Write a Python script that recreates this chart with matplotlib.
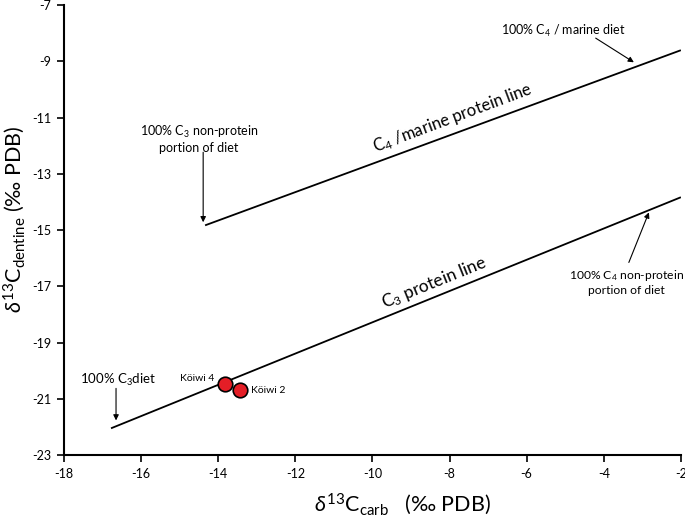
import matplotlib
matplotlib.use('Agg')
import matplotlib.pyplot as plt

plt.rcParams['font.family'] = ['Lato', 'DejaVu Sans']
plt.rcParams['mathtext.fontset'] = 'custom'
plt.rcParams['mathtext.rm'] = 'Lato'
plt.rcParams['mathtext.it'] = 'Lato:italic'
plt.rcParams['mathtext.default'] = 'regular'
plt.rcParams['axes.unicode_minus'] = False

# end points of the two model lines (x = d13C carb, y = d13C dentine)
c4_line_x = [-14.34, -2.0]
c4_line_y = [-14.83, -8.6]
c3_line_x = [-16.78, -2.0]
c3_line_y = [-22.05, -13.83]

# samples
sample_names = ['Köiwi 4', 'Köiwi 2']
sample_x = [-13.82, -13.43]
sample_y = [-20.49, -20.67]

x_ticks = [-18, -16, -14, -12, -10, -8, -6, -4, -2]
y_ticks = [-7, -9, -11, -13, -15, -17, -19, -21, -23]

fig = plt.figure(figsize=(6.85, 5.23), dpi=100)
ax = fig.add_axes([0.0934, 0.130, 0.9006, 0.860])

ax.plot(c4_line_x, c4_line_y, color='black', lw=1.3, solid_capstyle='butt')
ax.plot(c3_line_x, c3_line_y, color='black', lw=1.3, solid_capstyle='butt')

ax.scatter(sample_x, sample_y, s=110, color='#e41e26', edgecolor='black',
           linewidth=1.2, zorder=5)
ax.text(sample_x[0] - 0.28, sample_y[0] + 0.2, sample_names[0], fontsize=7.5,
        ha='right', va='center')
ax.text(sample_x[1] + 0.28, sample_y[1] - 0.05, sample_names[1], fontsize=7.5,
        ha='left', va='center')

arrow = dict(arrowstyle='-|>', color='black', lw=0.8, mutation_scale=8,
             shrinkA=0, shrinkB=0)

ax.annotate('', xy=(-16.65, -21.77), xytext=(-16.65, -20.63), arrowprops=arrow)
ax.text(-16.6, -20.33, '100% C$_3$diet', fontsize=9.5, ha='center', va='center')

ax.annotate('', xy=(-14.39, -14.72), xytext=(-14.39, -12.23), arrowprops=arrow)
ax.text(-14.5, -11.75, '100% C$_3$ non-protein\nportion of diet', fontsize=9,
        ha='center', va='center', linespacing=1.15)

ax.annotate('', xy=(-3.22, -9.03), xytext=(-4.21, -8.17), arrowprops=arrow)
ax.text(-5.05, -7.9, '100% C$_4$ / marine diet', fontsize=9, ha='center',
        va='center')

ax.annotate('', xy=(-2.83, -14.37), xytext=(-3.35, -16.15), arrowprops=arrow)
ax.text(-3.42, -16.85, '100% C$_4$ non-protein\nportion of diet', fontsize=8.7,
        ha='center', va='center', linespacing=1.15)

ax.text(-7.92, -11.02, 'C$_4$ /marine protein line', fontsize=12, ha='center',
        va='center', rotation=20.5)
ax.text(-8.39, -16.89, 'C$_3$ protein line', fontsize=12.5, ha='center',
        va='center', rotation=22)

ax.set_xlim(-18, -2)
ax.set_ylim(-23, -7)
ax.set_xticks(x_ticks)
ax.set_yticks(y_ticks)
ax.tick_params(direction='out', length=5, width=1.2, labelsize=9, pad=4)
for s in ['top', 'right']:
    ax.spines[s].set_visible(False)
for s in ['left', 'bottom']:
    ax.spines[s].set_linewidth(1.5)

ax.set_xlabel(r'$\mathit{\delta}^{13}$C$_{carb}$   (‰ PDB)', fontsize=15.5)
ax.set_ylabel(r'$\mathit{\delta}^{13}$C$_{dentine}$ (‰ PDB)', fontsize=15.5)
ax.xaxis.set_label_coords(0.548, -0.08)
ax.yaxis.set_label_coords(-0.06, 0.524)

fig.savefig('out.png', dpi=100)
